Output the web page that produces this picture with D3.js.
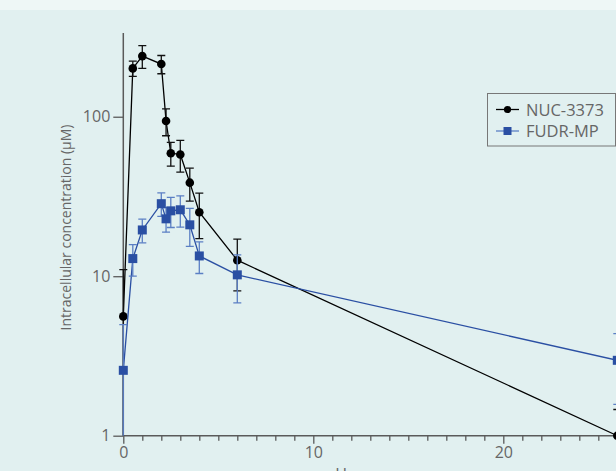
<!DOCTYPE html>
<html>
<head>
<meta charset="utf-8">
<script src="https://cdn.jsdelivr.net/npm/d3@7"></script>
<style>
  html, body { margin: 0; padding: 0; background: #e1f0f0; overflow: hidden; }
  svg { display: block; }
</style>
</head>
<body>
<svg id="chart" width="616" height="471"></svg>
<script>
// ---- data ----
const hours = [0, 0.5, 1, 2, 2.25, 2.5, 3, 3.5, 4, 6, 26];
const nucMean = [5.6, 201, 240, 214, 94, 59, 58, 38.6, 25.2, 12.6, 1.0];
const nucSD   = [5.4, 22, 39, 28, 18, 10, 13, 9, 8, 4.5, 0.46];
const fudrMean = [2.57, 12.9, 19.5, 28.5, 22.9, 25.7, 26.1, 21, 13.4, 10.2, 2.97];
const fudrSD   = [2.4, 2.9, 3.3, 4.8, 4, 5.5, 5.8, 5.6, 3, 3.4, 1.4];
const seriesNames = ["NUC-3373", "FUDR-MP"];
const xTickValues = [0, 10, 20];
const yTickValues = [1, 10, 100];
const xLabel = "Hours";
const yLabel = "Intracellular concentration (µM)";

// ---- layout ----
const W = 616, H = 471;
const mLeft = 123.3, mRight = 617.3, mTop = 33, mBottom = 435.7;
const svg = d3.select("#chart");

svg.append("rect").attr("x", 0).attr("y", 0).attr("width", W).attr("height", H).attr("fill", "#e1f0f0");
svg.append("rect").attr("x", 0).attr("y", 0).attr("width", W).attr("height", 10).attr("fill", "#eef7f6");

const x = d3.scaleLinear().domain([0, 26]).range([mLeft, mRight]);
const y = d3.scaleLog().domain([1, 335]).range([mBottom, mTop]);

const textColor = "#666";
const axisColor = "#5a5a5a";
const font = "'Open Sans', sans-serif";

// clip for error bars
svg.append("clipPath").attr("id", "plotclip")
  .append("rect").attr("x", mLeft - 10).attr("y", mTop - 10).attr("width", W).attr("height", mBottom - mTop + 10);

// ---- axes ----
const xMinor = d3.range(0, 26, 1).filter(v => !xTickValues.includes(v));
const gx = svg.append("g").attr("transform", `translate(0,${mBottom})`);
gx.call(d3.axisBottom(x).tickValues(xMinor).tickSize(5).tickFormat(""));
gx.selectAll(".tick line").attr("stroke", axisColor).attr("stroke-width", 1.3);
gx.select(".domain").remove();
const gx2 = svg.append("g").attr("transform", `translate(0,${mBottom})`);
gx2.call(d3.axisBottom(x).tickValues(xTickValues).tickSize(8).tickPadding(3).tickFormat(d3.format("d")));
gx2.select(".domain").remove();
gx2.selectAll(".tick line").attr("stroke", axisColor).attr("stroke-width", 1.3);
gx2.selectAll(".tick text").attr("fill", textColor).attr("font-family", font).attr("font-size", 16);
svg.append("line").attr("x1", mLeft).attr("x2", W).attr("y1", mBottom).attr("y2", mBottom)
  .attr("stroke", axisColor).attr("stroke-width", 1.5);

const gy = svg.append("g").attr("transform", `translate(${mLeft},0)`);
gy.call(d3.axisLeft(y).tickValues(yTickValues).tickSize(10).tickPadding(3).tickFormat(d3.format("d")));
gy.select(".domain").remove();
gy.selectAll(".tick line").attr("stroke", axisColor).attr("stroke-width", 1.3);
gy.selectAll(".tick text").attr("fill", textColor).attr("font-family", font).attr("font-size", 16);
svg.append("line").attr("x1", mLeft).attr("x2", mLeft).attr("y1", mTop).attr("y2", mBottom)
  .attr("stroke", axisColor).attr("stroke-width", 1.5);

svg.append("text")
  .attr("transform", `translate(71,${(117 + 338) / 2}) rotate(-90)`)
  .attr("text-anchor", "middle")
  .attr("fill", textColor).attr("font-family", font).attr("font-size", 14)
  .text(yLabel);

svg.append("text")
  .attr("x", 358).attr("y", 480)
  .attr("text-anchor", "middle")
  .attr("fill", textColor).attr("font-family", font).attr("font-size", 16)
  .text(xLabel);

// ---- series ----
function drawSeries(means, sds, color, barColor, shape) {
  const pts = hours.map((h, i) => ({ h, m: means[i], s: sds[i] }));
  const line = d3.line().x(d => x(d.h)).y(d => y(d.m));
  svg.append("path").datum(pts).attr("d", line)
    .attr("fill", "none").attr("stroke", color).attr("stroke-width", 1.3);

  const eb = svg.append("g").attr("clip-path", "url(#plotclip)");
  pts.forEach(d => {
    const lo = Math.max(d.m - d.s, 0.5), hi = d.m + d.s;
    const cx = x(d.h);
    eb.append("line").attr("x1", cx).attr("x2", cx).attr("y1", y(lo)).attr("y2", y(hi))
      .attr("stroke", barColor).attr("stroke-width", 1.3);
    [lo, hi].forEach(v => {
      if (d.m - d.s <= 0.5 && v === lo) return;
      eb.append("line").attr("x1", cx - 4).attr("x2", cx + 4).attr("y1", y(v)).attr("y2", y(v))
        .attr("stroke", barColor).attr("stroke-width", 1.3);
    });
  });

  pts.forEach(d => {
    if (shape === "circle") {
      svg.append("circle").attr("cx", x(d.h)).attr("cy", y(d.m)).attr("r", 4.3).attr("fill", color);
    } else {
      svg.append("rect").attr("x", x(d.h) - 4.5).attr("y", y(d.m) - 4.5)
        .attr("width", 9).attr("height", 9).attr("fill", color);
    }
  });
}

drawSeries(nucMean, nucSD, "#000000", "#111111", "circle");
drawSeries(fudrMean, fudrSD, "#2a4fa3", "#5b7fc4", "square");

// ---- legend ----
const lg = svg.append("g");
lg.append("rect").attr("x", 487.5).attr("y", 93.5).attr("width", 128).attr("height", 52.5)
  .attr("fill", "none").attr("stroke", "#777").attr("stroke-width", 1);
const legendItems = [
  { name: seriesNames[0], color: "#000", shape: "circle", y: 109.5 },
  { name: seriesNames[1], color: "#2a4fa3", shape: "square", y: 131 }
];
legendItems.forEach(it => {
  lg.append("line").attr("x1", 496).attr("x2", 519).attr("y1", it.y).attr("y2", it.y)
    .attr("stroke", it.shape === "circle" ? "#000" : "#5b7fc4").attr("stroke-width", 1.3);
  if (it.shape === "circle") {
    lg.append("circle").attr("cx", 507.5).attr("cy", it.y).attr("r", 3.6).attr("fill", it.color);
  } else {
    lg.append("rect").attr("x", 503.5).attr("y", it.y - 4).attr("width", 8).attr("height", 8).attr("fill", it.color);
  }
  lg.append("text").attr("x", 526).attr("y", it.y + 6)
    .attr("fill", textColor).attr("font-family", font).attr("font-size", 16.5)
    .text(it.name);
});
</script>
</body>
</html>
